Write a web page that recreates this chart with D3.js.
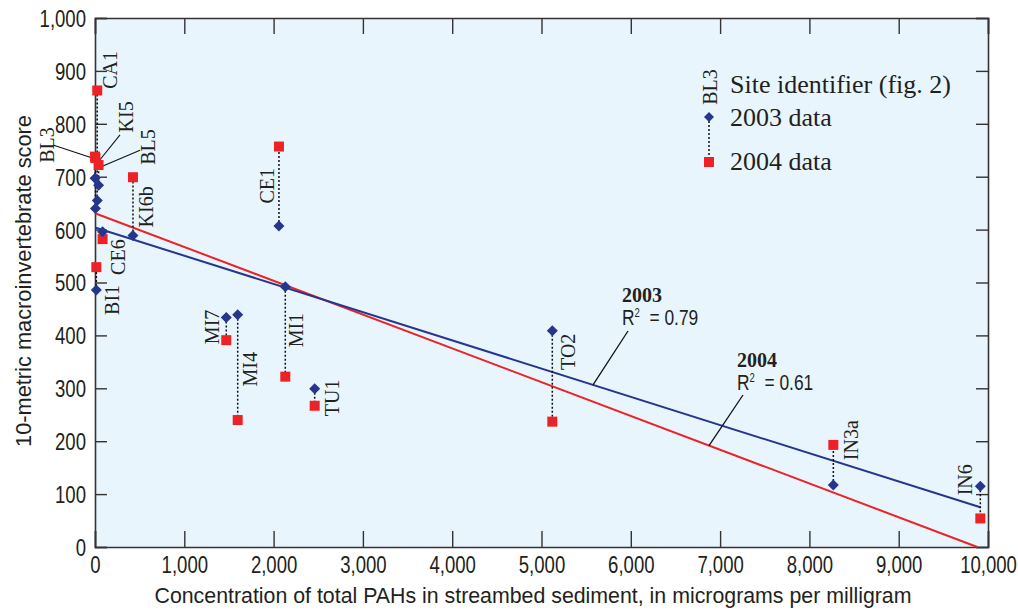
<!DOCTYPE html>
<html>
<head>
<meta charset="utf-8">
<script src="https://cdn.jsdelivr.net/npm/d3@7"></script>
<style>
  html, body { margin: 0; padding: 0; background: #ffffff; }
  svg { display: block; }
  .sans { font-family: "Liberation Sans", Arial, sans-serif; fill: #231f20; }
  .serif { font-family: "Liberation Serif", "Times New Roman", serif; fill: #231f20; }
</style>
</head>
<body>
<svg id="chart" width="1018" height="613"></svg>
<script>
// ---------------- DATA ----------------
const sites     = ["CA1", "BL3", "KI5", "BL5", "CE6", "KI6b", "BI1", "CE1", "MI1", "MI7", "MI4", "TU1", "TO2", "IN3a", "IN6"];
const pahs      = [25, 0, 5, 40, 85, 425, 15, 2060, 2131, 1470, 1598, 2460, 5121, 8268, 9914];
const score2003 = [655, 697, 640, 684, 596, 589, 486, 607, 492, 434, 439, 299, 409, 117, 115];
const score2004 = [863, 738, 735, 722, 582, 699, 529, 757, 322, 391, 240, 267, 237, 193, 54];

const trend2003 = [[0, 604], [9914, 75]];
const trend2004 = [[0, 631], [9880, 0]];
const r2003 = "0.79";
const r2004 = "0.61";

const xTicks = [0, 1000, 2000, 3000, 4000, 5000, 6000, 7000, 8000, 9000, 10000];
const yTicks = [0, 100, 200, 300, 400, 500, 600, 700, 800, 900, 1000];

const xTitle = "Concentration of total PAHs in streambed sediment, in micrograms per milligram";
const yTitle = "10-metric macroinvertebrate score";

// label anchor (data units): baseline x, centre y
const labelX = [246, -459, 426, 672, 336, 650, 269, 1999, 2329, 1389, 1814, 2732, 5375, 8544, 9821];
const labelY = [902, 760, 813, 756, 548, 643, 467, 683, 410, 416, 336, 282, 369, 202, 127];
// leader lines for crowded labels: [site, fromX, fromY, toX, toY] (data units)
const leaders = [
  ["KI5", 280, 779, 56, 732],
  ["BL5", 504, 750, 56, 718],
  ["BL3", -470, 760, -22, 735]
];

// ---------------- LAYOUT ----------------
const C_BLUE = "#26368c", C_RED = "#ec2227", C_BG = "#e8f5fc", C_AX = "#333333";
const NARROW = 0.79; // emulate a condensed face
const svg = d3.select("#chart");
const x = d3.scaleLinear().domain([0, 10000]).range([95, 988]);
const y = d3.scaleLinear().domain([0, 1000]).range([547, 18]);

// plot background
svg.append("rect").attr("x", x(0)).attr("y", y(1000))
  .attr("width", x(10000) - x(0)).attr("height", y(0) - y(1000))
  .attr("fill", C_BG);

// axes (ticks inward on all sides)
const fmt = d3.format(",");
const axB = svg.append("g").attr("transform", `translate(0,${y(0)})`)
  .call(d3.axisBottom(x).tickValues(xTicks).tickSize(-16).tickFormat(fmt));
const axT = svg.append("g").attr("transform", `translate(0,${y(1000)})`)
  .call(d3.axisTop(x).tickValues(xTicks).tickSize(-16).tickFormat(""));
const axL = svg.append("g").attr("transform", `translate(${x(0)},0)`)
  .call(d3.axisLeft(y).tickValues(yTicks).tickSize(-12).tickFormat(fmt));
const axR = svg.append("g").attr("transform", `translate(${x(10000)},0)`)
  .call(d3.axisRight(y).tickValues(yTicks).tickSize(-12).tickFormat(""));
[axB, axT, axL, axR].forEach(a => {
  a.select(".domain").attr("stroke", C_AX).attr("stroke-width", 1.6);
  a.selectAll(".tick line").attr("stroke", C_AX).attr("stroke-width", 1.4);
  a.selectAll(".tick text").attr("class", "sans").attr("font-family", null)
    .attr("font-size", null).style("font-size", "23.5px");
});
axB.selectAll(".tick text").attr("y", 0).attr("dy", null)
  .attr("transform", `translate(0,25.5) scale(${NARROW},1)`);
axL.selectAll(".tick text").attr("x", 0).attr("dy", "0.36em")
  .attr("transform", `translate(-9,0) scale(${NARROW},1)`);

// axis titles
svg.append("text").attr("class", "sans")
  .attr("x", 533).attr("y", 603).attr("text-anchor", "middle")
  .attr("textLength", 757).attr("lengthAdjust", "spacingAndGlyphs")
  .style("font-size", "22.5px").text(xTitle);
svg.append("text").attr("class", "sans")
  .attr("transform", "translate(31,281) rotate(-90)").attr("text-anchor", "middle")
  .attr("textLength", 332).attr("lengthAdjust", "spacingAndGlyphs")
  .style("font-size", "22.5px").text(yTitle);

const plot = svg.append("g");

// trend lines
const line = d3.line().x(d => x(d[0])).y(d => y(d[1]));
plot.append("path").datum(trend2004).attr("d", line).attr("stroke", C_RED).attr("stroke-width", 2).attr("fill", "none");
plot.append("path").datum(trend2003).attr("d", line).attr("stroke", C_BLUE).attr("stroke-width", 2).attr("fill", "none");

// dotted connectors
const idx = d3.range(sites.length);
plot.selectAll("line.pair").data(idx).join("line").attr("class", "pair")
  .attr("x1", i => x(pahs[i])).attr("x2", i => x(pahs[i]))
  .attr("y1", i => y(score2003[i])).attr("y2", i => y(score2004[i]))
  .attr("stroke", "#111").attr("stroke-width", 1.5).attr("stroke-dasharray", "2,2");

// leader lines
plot.selectAll("line.leader").data(leaders).join("line").attr("class", "leader")
  .attr("x1", d => x(d[1])).attr("y1", d => y(d[2]))
  .attr("x2", d => x(d[3])).attr("y2", d => y(d[4]))
  .attr("stroke", "#111").attr("stroke-width", 1.1);

// markers
const diamond = (cx, cy, r) => `M${cx},${cy - r}L${cx + r},${cy}L${cx},${cy + r}L${cx - r},${cy}Z`;
plot.selectAll("rect.p04").data(idx).join("rect").attr("class", "p04")
  .attr("x", i => x(pahs[i]) - 5).attr("y", i => y(score2004[i]) - 5)
  .attr("width", 10).attr("height", 10).attr("fill", C_RED);
plot.selectAll("path.p03").data(idx).join("path").attr("class", "p03")
  .attr("d", i => diamond(x(pahs[i]), y(score2003[i]), 5.5)).attr("fill", C_BLUE);

// site labels (rotated)
plot.selectAll("text.site").data(idx).join("text").attr("class", "site serif")
  .attr("transform", i => `translate(${x(labelX[i])},${y(labelY[i])}) rotate(-90)`)
  .attr("text-anchor", "middle").attr("font-size", 20).text(i => sites[i]);

// regression annotations
function annot(label, r2, ax, ay, lx1, ly1, lx2, ly2) {
  plot.append("text").attr("class", "serif").attr("x", ax).attr("y", ay)
    .attr("font-size", 20).attr("font-weight", "bold").text(label);
  const t = plot.append("text").attr("class", "sans")
    .attr("transform", `translate(${ax},${ay + 23}) scale(${NARROW},1)`).style("font-size", "22px");
  t.append("tspan").text("R");
  t.append("tspan").attr("dy", -8).style("font-size", "12px").text("2");
  t.append("tspan").attr("dy", 8).text("\u00a0\u00a0= " + r2);
  plot.append("line").attr("x1", lx1).attr("y1", ly1).attr("x2", lx2).attr("y2", ly2)
    .attr("stroke", "#111").attr("stroke-width", 1.3);
}
annot("2003", r2003, 622, 302, 628, 331, x(5577), y(604 - 0.05335 * 5577));
annot("2004", r2004, 737, 367, 743, 395, x(6876), y(631 - 0.06387 * 6876));

// legend
const lg = svg.append("g");
lg.append("line").attr("x1", 709).attr("x2", 709).attr("y1", 117).attr("y2", 162)
  .attr("stroke", "#111").attr("stroke-width", 1.5).attr("stroke-dasharray", "2,2");
lg.append("path").attr("d", diamond(709, 117, 5)).attr("fill", C_BLUE);
lg.append("rect").attr("x", 704).attr("y", 157).attr("width", 10).attr("height", 10).attr("fill", C_RED);
lg.append("text").attr("class", "serif").attr("transform", "translate(717,87) rotate(-90)")
  .attr("text-anchor", "middle").attr("font-size", 20).text("BL3");
lg.append("text").attr("class", "serif").attr("x", 730).attr("y", 93).attr("font-size", 26).text("Site identifier (fig. 2)");
lg.append("text").attr("class", "serif").attr("x", 730).attr("y", 126).attr("font-size", 26).text("2003 data");
lg.append("text").attr("class", "serif").attr("x", 730).attr("y", 170).attr("font-size", 26).text("2004 data");
</script>
</body>
</html>
